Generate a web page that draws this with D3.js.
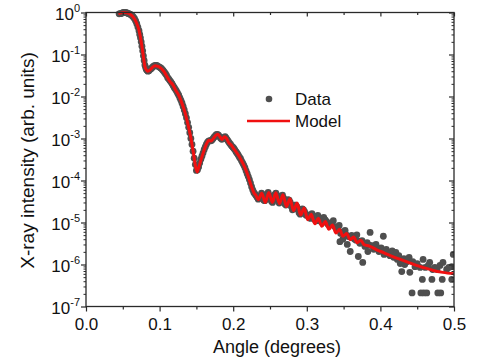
<!DOCTYPE html>
<html><head><meta charset="utf-8">
<script src="https://cdn.jsdelivr.net/npm/d3@7"></script>
<style>
html,body{margin:0;padding:0;background:#fff;}
svg{display:block;font-family:"Liberation Sans",Arial,sans-serif;}
</style></head>
<body>
<svg id="chart" width="480" height="363"></svg>
<script>
// ---------- data ----------
const modelAngle = [0.044,0.048,0.052,0.056,0.060,0.064,0.068,0.072,0.075,0.078,0.080,0.082,0.084,0.087,0.090,0.094,0.098,0.102,0.106,0.110,0.114,0.118,0.122,0.126,0.130,0.134,0.138,0.142,0.146,0.149,0.151,0.153,0.156,0.160,0.164,0.167,0.170,0.173,0.176,0.179,0.182,0.185,0.188,0.191,0.194,0.197,0.200,0.204,0.208,0.212,0.216,0.220,0.224,0.228,0.231,
0.2340,0.2388,0.2436,0.2484,0.2532,0.2580,0.2628,0.2676,0.2724,0.2772,0.2820,0.2868,0.2916,0.2964,0.3012,0.3060,0.3108,0.3156,0.3204,0.3252,0.3300,0.3348,0.3396,0.3444,0.3492,0.3540,0.3588,0.3636,0.3684,0.3732,0.3780,
0.385,0.395,0.405,0.415,0.427,0.438,0.449,0.460,0.472,0.485,0.500];
const modelValue = [9.3e-1,9.8e-1,1.0,9.8e-1,9.1e-1,7.9e-1,6.0e-1,3.8e-1,2.0e-1,8.9e-2,5.2e-2,4.3e-2,4.0e-2,4.3e-2,4.9e-2,5.4e-2,5.2e-2,4.7e-2,3.9e-2,3.0e-2,2.3e-2,1.9e-2,1.4e-2,1.07e-2,7.2e-3,4.5e-3,2.4e-3,1.15e-3,4.5e-4,2.1e-4,1.6e-4,2.0e-4,3.0e-4,5.0e-4,7.6e-4,9.1e-4,8.7e-4,1.0e-3,1.17e-3,1.26e-3,1.10e-3,9.5e-4,1.10e-3,1.0e-3,7.9e-4,7.1e-4,6.0e-4,4.8e-4,3.8e-4,2.8e-4,2.0e-4,1.32e-4,7.9e-5,5.2e-5,4.4e-5,
3.5e-5,5.0e-5,3.0e-5,5.2e-5,3.0e-5,5.1e-5,2.8e-5,4.6e-5,2.4e-5,3.7e-5,1.9e-5,2.9e-5,1.5e-5,2.2e-5,1.17e-5,1.58e-5,9.3e-6,1.26e-5,8.1e-6,1.05e-5,6.9e-6,8.7e-6,5.6e-6,6.9e-6,4.7e-6,5.5e-6,3.9e-6,4.5e-6,3.3e-6,3.8e-6,2.95e-6,
2.75e-6,2.24e-6,1.9e-6,1.58e-6,1.32e-6,1.12e-6,9.5e-7,8.3e-7,7.2e-7,6.5e-7,6.0e-7];

// measured points, part 1 (follow the model closely)
const dataAngle = [0.045,0.048,0.051,0.054,0.057,0.060,0.063,0.066,0.069,0.072,0.074,0.076,0.078,0.080,0.082,0.084,0.087,0.090,0.093,0.096,0.099,0.102,0.105,0.108,0.111,0.114,0.117,0.120,0.123,0.126,0.129,0.132,0.135,0.138,0.141,0.144,0.147,0.150,0.153,0.156,0.159,0.162,0.165,0.168,0.171,0.174,0.177,0.180,0.183,0.186,0.189,0.192,0.195,0.198,0.201,0.204,0.207,0.210,0.213,0.216,0.219,0.222,0.225,0.228,0.231,0.234,0.237,0.240,0.243,0.246,0.249,0.252,0.255,0.258,0.261,0.264,0.267,0.270,0.273,0.276,0.279,0.282,0.285,0.288,0.291,0.294,0.297,
0.0465,0.0495,0.0525,0.0555,0.0585,0.0615,0.0645,0.0675,0.0705,0.0730,0.0750,0.0770,0.0790,0.0810,0.0830,0.0855,0.0885,0.0915,0.0945,0.0975,0.1005,0.1035,0.1065,0.1095,0.1125,0.1155,0.1185,0.1215,0.1245,0.1275,0.1305,0.1335,0.1365,0.1395,0.1425,0.1455,0.1485,0.1515,0.1545,0.1575,0.1605,0.1635,0.1665,0.1695,0.1725,0.1755,0.1785,0.1815,0.1845,0.1875,0.1905,0.1935,0.1965,0.1995,0.2025,0.2055,0.2085,0.2115,0.2145,0.2175,0.2205,0.2235,0.2265,0.2295,0.2325,0.2355,0.2385,0.2415,0.2445,0.2475,0.2505,0.2535,0.2565,0.2595,0.2625,0.2655,0.2685,0.2715,0.2745,0.2775,0.2805,0.2835,0.2865,0.2895,0.2925,0.2955,0.2985,
0.295,0.299,0.303,0.307,0.311,0.315,0.319,0.323,0.327,0.332,0.336,0.340,0.344,0.345,0.346,0.349,0.352,0.355,0.356,0.359,0.361,0.365,0.368,0.370,0.372,0.375,0.376,0.379,0.382,0.383,0.386,0.389,0.391,0.394,0.395,0.398,0.401,0.404,0.405,0.408,0.410,0.413,0.416,0.418,0.421,0.423,0.425,0.427,0.429,0.432,0.433,0.436,0.439,0.440,0.443,0.444,0.447,0.450,0.454,0.455,0.457,0.458,0.459,0.461,0.463,0.465,0.467,0.470,0.471,0.474,0.477,0.478,0.481,0.482,0.484,0.485,0.490,0.493,0.497,0.497,0.499,
0.301,0.305,0.309,0.313,0.317,0.321,0.325,0.329,0.334,0.338,0.342,0.348,0.353,0.358,0.363,0.367,0.371,0.378,0.385,0.392,0.400,0.407,0.414];
const dataValue = [9.3e-1,9.5e-1,1.0,1.0,9.5e-1,9.1e-1,8.3e-1,7.1e-1,5.4e-1,3.7e-1,2.5e-1,1.58e-1,9.3e-2,5.6e-2,4.4e-2,4.0e-2,4.4e-2,4.9e-2,5.4e-2,5.5e-2,5.1e-2,4.7e-2,4.1e-2,3.5e-2,2.8e-2,2.4e-2,2.0e-2,1.62e-2,1.35e-2,1.07e-2,8.1e-3,5.8e-3,3.9e-3,2.4e-3,1.38e-3,7.2e-4,3.4e-4,1.74e-4,2.1e-4,3.2e-4,4.5e-4,6.3e-4,8.1e-4,8.9e-4,9.1e-4,1.07e-3,1.23e-3,1.20e-3,1.02e-3,1.0e-3,1.10e-3,9.3e-4,7.8e-4,6.6e-4,5.8e-4,4.8e-4,4.0e-4,3.3e-4,2.6e-4,2.0e-4,1.45e-4,1.05e-4,7.1e-5,5.2e-5,4.4e-5,3.6e-5,4.3e-5,3.8e-5,3.3e-5,4.8e-5,4.4e-5,3.2e-5,4.2e-5,5.0e-5,3.3e-5,3.8e-5,4.5e-5,2.8e-5,3.0e-5,3.4e-5,2.4e-5,2.1e-5,2.6e-5,2.0e-5,1.58e-5,2.1e-5,1.82e-5,
9.4e-1,9.8e-1,1.0,9.8e-1,9.3e-1,8.7e-1,7.7e-1,6.3e-1,4.5e-1,3.0e-1,2.0e-1,1.22e-1,7.2e-2,4.9e-2,4.2e-2,4.1e-2,4.6e-2,5.2e-2,5.5e-2,5.3e-2,4.9e-2,4.4e-2,3.8e-2,3.2e-2,2.6e-2,2.2e-2,1.8e-2,1.48e-2,1.2e-2,9.3e-3,6.9e-3,4.8e-3,3.1e-3,1.85e-3,1.0e-3,5.0e-4,2.4e-4,1.8e-4,2.6e-4,3.8e-4,5.4e-4,7.2e-4,8.7e-4,8.8e-4,9.9e-4,1.15e-3,1.26e-3,1.10e-3,9.6e-4,1.06e-3,1.02e-3,8.5e-4,7.2e-4,6.2e-4,5.3e-4,4.4e-4,3.6e-4,2.9e-4,2.3e-4,1.7e-4,1.24e-4,8.7e-5,6.0e-5,4.8e-5,4.0e-5,3.9e-5,5.0e-5,3.4e-5,4.0e-5,5.2e-5,3.6e-5,3.0e-5,4.6e-5,4.4e-5,2.9e-5,4.2e-5,3.8e-5,2.6e-5,3.5e-5,3.0e-5,2.0e-5,2.6e-5,2.4e-5,1.7e-5,1.9e-5,2.0e-5,1.6e-5,
1.82e-5,1.48e-5,1.32e-5,1.62e-5,1.17e-5,1.48e-5,1.05e-5,1.32e-5,1.05e-5,8.9e-6,1.1e-5,7.6e-6,8.5e-6,3.5e-6,5.5e-6,4.0e-6,6.5e-6,3.0e-6,4.7e-6,2.04e-6,4.9e-6,4.0e-6,5.1e-6,1.55e-6,3.2e-6,3.7e-6,1.12e-6,2.7e-6,3.3e-6,2.04e-6,5.8e-6,2.8e-6,2.3e-6,3.0e-6,2.4e-6,2.04e-6,2.5e-6,4.7e-6,1.74e-6,2.3e-6,1.82e-6,1.62e-6,2.1e-6,1.48e-6,1.95e-6,1.32e-6,1.62e-6,1.05e-6,6.8e-7,1.38e-6,1.0e-6,1.17e-6,1.48e-6,6.5e-7,2.1e-7,1.17e-6,8.9e-7,1.05e-6,8.5e-7,2.1e-7,4.4e-7,1.32e-6,2.1e-7,8.5e-7,2.1e-7,9.5e-7,1.12e-6,4.4e-7,7.6e-7,8.5e-7,7.6e-7,2.1e-7,9.5e-7,2.1e-7,4.4e-7,1.12e-6,7.6e-7,8.5e-7,4.4e-7,8.9e-7,1.74e-6,
1.5e-5,1.25e-5,1.4e-5,1.1e-5,1.2e-5,9.8e-6,1.15e-5,9.0e-6,9.8e-6,8.0e-6,7.0e-6,6.0e-6,5.2e-6,4.6e-6,4.3e-6,3.8e-6,3.6e-6,3.1e-6,2.9e-6,2.6e-6,2.2e-6,2.0e-6,1.8e-6];

const xTicks = [0.0,0.1,0.2,0.3,0.4,0.5];
const xTickLabels = ["0.0","0.1","0.2","0.3","0.4","0.5"];
const yTickExponents = [0,-1,-2,-3,-4,-5,-6,-7];
const seriesNames = ["Data","Model"];
const xTitle = "Angle (degrees)";
const yTitle = "X-ray intensity (arb. units)";

// ---------- layout ----------
const L = 86, R = 454, T = 12.5, B = 306.5;
const svg = d3.select("#chart");
const x = d3.scaleLinear().domain([0,0.5]).range([L,R]);
const y = d3.scaleLog().domain([1e-7,1]).range([B,T]);
const axisColor = "#2a2a2a";
const dataColor = "#4f4f4f";
const modelColor = "#f01010";

svg.append("defs").append("clipPath").attr("id","plotclip")
  .append("rect").attr("x",L).attr("y",T-4).attr("width",R-L).attr("height",B-T+4);

const plot = svg.append("g").attr("clip-path","url(#plotclip)");
const pts = dataAngle.map((a,i)=>({a, v:dataValue[i]}));
plot.selectAll("circle.d").data(pts).join("circle")
  .attr("class","d")
  .attr("cx",d=>x(d.a)).attr("cy",d=>y(d.v)).attr("r",3.4)
  .attr("fill",dataColor);

const mpts = modelAngle.map((a,i)=>({a, v:modelValue[i]}));
plot.append("path").datum(mpts)
  .attr("d", d3.line().x(d=>x(d.a)).y(d=>y(d.v)).curve(d3.curveMonotoneX))
  .attr("fill","none").attr("stroke",modelColor).attr("stroke-width",3)
  .attr("stroke-linejoin","round");

// ---------- axes ----------
const allYTicks = y.ticks();
const isMajor = v => Math.abs(Math.log10(v) - Math.round(Math.log10(v))) < 1e-6;
const xMinor = d3.range(0.05,0.5,0.1);

const bottom = svg.append("g").attr("transform",`translate(0,${B})`)
  .call(d3.axisBottom(x).tickValues(xTicks).tickFormat((d,i)=>xTickLabels[i]).tickSize(5).tickPadding(6));
bottom.call(g=>g.select(".domain").remove());
bottom.selectAll("text").attr("font-size",17).attr("fill","#111").attr("font-family","Liberation Sans, Arial, sans-serif");
bottom.selectAll("line").attr("stroke",axisColor).attr("stroke-width",1.2);
svg.append("g").attr("transform",`translate(0,${B})`)
  .call(d3.axisBottom(x).tickValues(xMinor).tickFormat("").tickSize(3))
  .call(g=>g.select(".domain").remove())
  .selectAll("line").attr("stroke",axisColor).attr("stroke-width",1.2);

svg.append("g").attr("transform",`translate(0,${T})`)
  .call(d3.axisBottom(x).tickValues(xTicks).tickFormat("").tickSize(4))
  .call(g=>g.select(".domain").remove())
  .selectAll("line").attr("stroke",axisColor).attr("stroke-width",1.2);
svg.append("g").attr("transform",`translate(0,${T})`)
  .call(d3.axisBottom(x).tickValues(xMinor).tickFormat("").tickSize(2.5))
  .call(g=>g.select(".domain").remove())
  .selectAll("line").attr("stroke",axisColor).attr("stroke-width",1.2);

svg.append("g").attr("transform",`translate(${L},0)`)
  .call(d3.axisLeft(y).tickValues(yTickExponents.map(e=>Math.pow(10,e))).tickFormat("").tickSize(5))
  .call(g=>g.select(".domain").remove())
  .selectAll("line").attr("stroke",axisColor).attr("stroke-width",1.2);
svg.append("g").attr("transform",`translate(${L},0)`)
  .call(d3.axisLeft(y).tickValues(allYTicks.filter(v=>!isMajor(v))).tickFormat("").tickSize(2.5))
  .call(g=>g.select(".domain").remove())
  .selectAll("line").attr("stroke",axisColor).attr("stroke-width",1);

svg.append("g").attr("transform",`translate(${R},0)`)
  .call(d3.axisLeft(y).tickValues(yTickExponents.map(e=>Math.pow(10,e))).tickFormat("").tickSize(5))
  .call(g=>g.select(".domain").remove())
  .selectAll("line").attr("stroke",axisColor).attr("stroke-width",1.2);
svg.append("g").attr("transform",`translate(${R},0)`)
  .call(d3.axisLeft(y).tickValues(allYTicks.filter(v=>!isMajor(v))).tickFormat("").tickSize(2.5))
  .call(g=>g.select(".domain").remove())
  .selectAll("line").attr("stroke",axisColor).attr("stroke-width",1);

const ylab = svg.append("g");
yTickExponents.forEach(e=>{
  const t = ylab.append("text").attr("x",L-6).attr("y",y(Math.pow(10,e))+7.5)
    .attr("text-anchor","end").attr("fill","#111");
  t.append("tspan").attr("font-size",17).text("10");
  t.append("tspan").attr("font-size",11).attr("dy",-8).text(String(e));
});

svg.append("rect").attr("x",L).attr("y",T).attr("width",R-L).attr("height",B-T)
  .attr("fill","none").attr("stroke",axisColor).attr("stroke-width",1.3);

svg.append("text").attr("x",277).attr("y",353).attr("text-anchor","middle")
  .attr("font-size",18).attr("fill","#111").text(xTitle);
svg.append("text").attr("transform",`translate(34,${(T+B)/2+1}) rotate(-90)`)
  .attr("text-anchor","middle").attr("font-size",19).attr("fill","#111").text(yTitle);

const lg = svg.append("g");
lg.append("circle").attr("cx",269).attr("cy",99).attr("r",3.3).attr("fill",dataColor);
lg.append("text").attr("x",295).attr("y",105).attr("font-size",17).attr("fill","#111").text(seriesNames[0]);
lg.append("line").attr("x1",247).attr("x2",290).attr("y1",121).attr("y2",121)
  .attr("stroke",modelColor).attr("stroke-width",2.6);
lg.append("text").attr("x",295).attr("y",127).attr("font-size",17).attr("fill","#111").text(seriesNames[1]);
</script>
</body></html>
